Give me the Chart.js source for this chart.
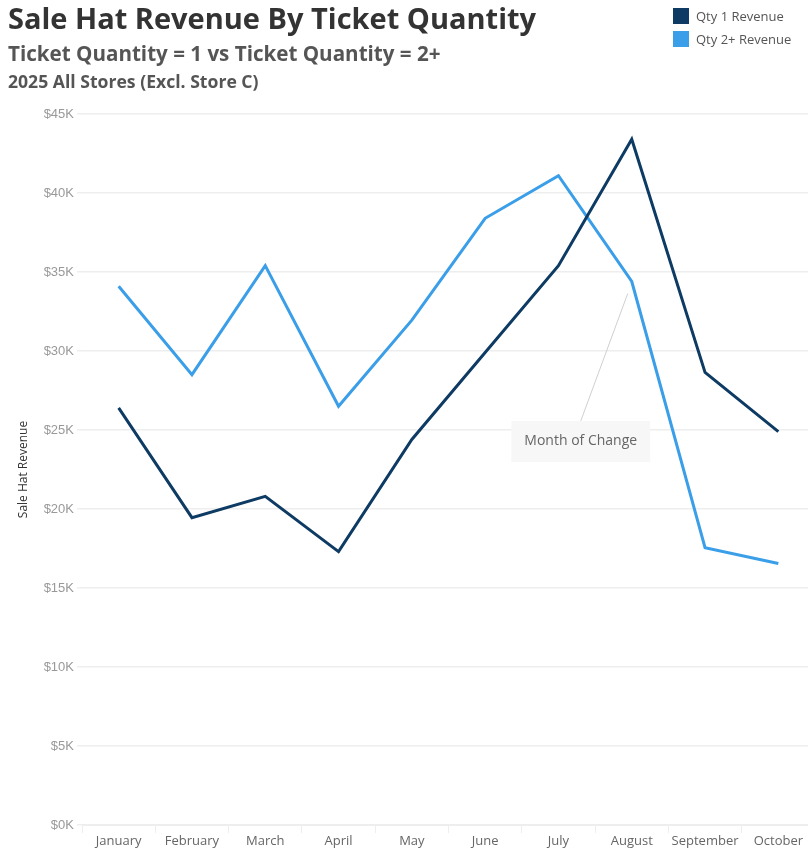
<!DOCTYPE html>
<html>
<head>
<meta charset="utf-8">
<script src="https://cdn.jsdelivr.net/npm/chart.js@4.4.1/dist/chart.umd.min.js"></script>
<style>
  html, body { margin: 0; padding: 0; background: #fff; overflow: hidden; width: 808px; height: 850px; }
  #wrap { position: relative; width: 808px; height: 850px; overflow: hidden; }
  #chartBox { position: absolute; left: 0; top: 0; width: 815px; height: 850px; }
  .t1 { position: absolute; left: 8px; top: 0px; font-family: "Open Sans", sans-serif; font-weight: 700; font-size: 29px; color: #333; white-space: nowrap; line-height: 36px; }
  .t2 { position: absolute; left: 8px; top: 39px; font-family: "Open Sans", sans-serif; font-weight: 700; font-size: 20.6px; color: #555; white-space: nowrap; line-height: 28px; }
  .t3 { position: absolute; left: 8px; top: 70px; font-family: "Open Sans", sans-serif; font-weight: 700; font-size: 17.6px; color: #555; white-space: nowrap; line-height: 22px; }
  #legend { position: absolute; left: 673px; top: 4px; font-family: "Open Sans", sans-serif; font-size: 13px; color: #555; }
  .li { display: flex; align-items: center; height: 23px; }
  .sw { width: 16px; height: 16px; margin-right: 7px; }
</style>
</head>
<body>
<div id="wrap">
  <div id="chartBox"><canvas id="c"></canvas></div>
  <div class="t1">Sale Hat Revenue By Ticket Quantity</div>
  <div class="t2">Ticket Quantity = 1 vs Ticket Quantity = 2+</div>
  <div class="t3">2025 All Stores (Excl. Store C)</div>
  <div id="legend"></div>
</div>
<script>
const months = ["January","February","March","April","May","June","July","August","September","October"];
const qty1Revenue = [26400, 19450, 20800, 17300, 24400, 29900, 35400, 43400, 28650, 24900];
const qty2Revenue = [34100, 28500, 35400, 26500, 31950, 38400, 41100, 34400, 17550, 16550];
const seriesNames = ["Qty 1 Revenue", "Qty 2+ Revenue"];
const seriesColors = ["#0e3b63", "#3a9ee8"];
const yTickValues = [0, 5000, 10000, 15000, 20000, 25000, 30000, 35000, 40000, 45000];
const annotationText = "Month of Change";
const annotationMonth = "August";

// legend
const legendEl = document.getElementById('legend');
seriesNames.forEach((n, i) => {
  const d = document.createElement('div'); d.className = 'li';
  d.innerHTML = '<div class="sw" style="background:' + seriesColors[i] + '"></div><span>' + n + '</span>';
  legendEl.appendChild(d);
});

const annotationPlugin = {
  id: 'monthNote',
  afterDatasetsDraw(chart) {
    const ctx = chart.ctx;
    const xs = chart.scales.x, ys = chart.scales.y;
    const idx = months.indexOf(annotationMonth);
    const px = xs.getPixelForValue(idx);
    const py = ys.getPixelForValue(qty2Revenue[idx]);
    const bx = px - 51, by = py + 160;
    ctx.save();
    ctx.font = '14px "Open Sans", sans-serif';
    const tw = ctx.measureText(annotationText).width;
    const w = tw + 26, h = 41;
    ctx.strokeStyle = '#cfcfcf'; ctx.lineWidth = 1;
    ctx.beginPath(); ctx.moveTo(px - 4, py + 12); ctx.lineTo(bx, by - h / 2); ctx.stroke();
    ctx.fillStyle = '#f7f7f7';
    ctx.fillRect(bx - w / 2, by - h / 2, w, h);
    ctx.fillStyle = '#666';
    ctx.textAlign = 'center'; ctx.textBaseline = 'middle';
    ctx.fillText(annotationText, bx, by);
    ctx.restore();
  }
};

new Chart(document.getElementById('c'), {
  type: 'line',
  data: {
    labels: months,
    datasets: [
      { label: seriesNames[0], data: qty1Revenue, borderColor: seriesColors[0], backgroundColor: seriesColors[0], borderWidth: 3, pointRadius: 0, tension: 0, fill: false },
      { label: seriesNames[1], data: qty2Revenue, borderColor: seriesColors[1], backgroundColor: seriesColors[1], borderWidth: 3, pointRadius: 0, tension: 0, fill: false }
    ]
  },
  options: {
    responsive: true,
    maintainAspectRatio: false,
    animation: false,
    layout: { padding: { top: 114, right: 0, bottom: 0, left: 0 } },
    plugins: { legend: { display: false }, tooltip: { enabled: false }, title: { display: false } },
    scales: {
      x: {
        offset: true,
        grid: { display: true, offset: true, drawOnChartArea: false, drawTicks: true, tickLength: 8, color: '#eeeeee' },
        border: { display: true, color: '#eeeeee' },
        ticks: { color: '#666', font: { family: '"Open Sans", sans-serif', size: 13 }, padding: 0, maxRotation: 0, autoSkip: false },
        afterFit(scale) { scale.height = 25; }
      },
      y: {
        min: 0, max: 45000,
        afterBuildTicks(scale) { scale.ticks = yTickValues.map(v => ({ value: v })); },
        grid: { color: '#eeeeee', lineWidth: 1.5, drawTicks: true, tickLength: 5 },
        border: { display: false },
        ticks: { color: '#999', font: { family: '"Liberation Sans", Arial, sans-serif', size: 13 }, padding: 3,
          callback: v => '$' + (v / 1000) + 'K' },
        title: { display: true, text: 'Sale Hat Revenue', color: '#333', font: { family: '"Open Sans", sans-serif', size: 12 }, padding: { top: 16, bottom: 0 } },
        afterFit(scale) { scale.width = 82; }
      }
    }
  },
  plugins: [annotationPlugin]
});
</script>
</body>
</html>
